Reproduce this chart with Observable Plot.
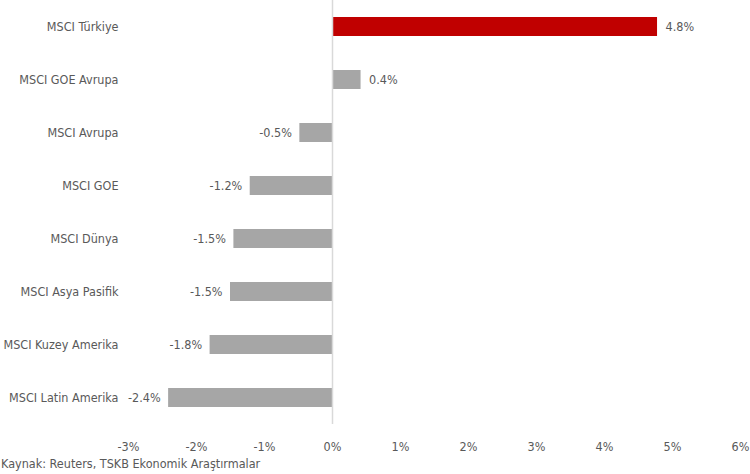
<!DOCTYPE html>
<html>
<head>
<meta charset="utf-8">
<script src="https://cdn.jsdelivr.net/npm/d3@7"></script>
<script src="https://cdn.jsdelivr.net/npm/@observablehq/plot@0.6"></script>
<style>
  body { margin: 0; background: #fff; }
  #chart { width: 750px; }
  .caption { font-family: "DejaVu Sans", sans-serif; font-stretch: condensed; font-size: 12.5px; color: #595959; margin: 0; padding-left: 1px; line-height: 16px; }
  svg { overflow: visible; font-stretch: condensed; }
</style>
</head>
<body>
<div id="chart"></div>
<p class="caption">Kaynak: Reuters, TSKB Ekonomik Araştırmalar</p>
<script>
const categories = ["MSCI Türkiye", "MSCI GOE Avrupa", "MSCI Avrupa", "MSCI GOE", "MSCI Dünya", "MSCI Asya Pasifik", "MSCI Kuzey Amerika", "MSCI Latin Amerika"];
const values = [4.78, 0.42, -0.48, -1.21, -1.45, -1.50, -1.80, -2.41];
const labels = ["4.8%", "0.4%", "-0.5%", "-1.2%", "-1.5%", "-1.5%", "-1.8%", "-2.4%"];
const colors = ["#c00000", "#a6a6a6", "#a6a6a6", "#a6a6a6", "#a6a6a6", "#a6a6a6", "#a6a6a6", "#a6a6a6"];
const xTicks = [-3, -2, -1, 0, 1, 2, 3, 4, 5, 6];

const data = categories.map((c, i) => ({cat: c, v: values[i], label: labels[i], color: colors[i]}));
const font = '"DejaVu Sans", sans-serif';

const chart = Plot.plot({
  width: 750,
  height: 456,
  marginLeft: 128,
  marginRight: 10,
  marginTop: 0,
  marginBottom: 32,
  style: {fontFamily: font, fontSize: "12.5px", color: "#595959", background: "#fff"},
  x: {domain: [-3, 6], ticks: xTicks, tickFormat: d => d + "%", label: null, tickSize: 0, tickPadding: 18},
  y: {domain: categories, label: null, paddingInner: 0.64, paddingOuter: 0.32, tickSize: 0, tickPadding: 10},
  marks: [
    Plot.barX(data, {x: "v", y: "cat", fill: "color"}),
    Plot.ruleX([0], {stroke: "#d9d9d9", strokeWidth: 1.5}),
    Plot.text(data, {x: "v", y: "cat", text: "label", textAnchor: "start", filter: d => d.v >= 0, dx: 8, fill: "#595959", fontSize: 12.5}),
    Plot.text(data, {x: "v", y: "cat", text: "label", textAnchor: "end", filter: d => d.v < 0, dx: -8, fill: "#595959", fontSize: 12.5})
  ]
});
document.getElementById("chart").appendChild(chart);
</script>
</body>
</html>
